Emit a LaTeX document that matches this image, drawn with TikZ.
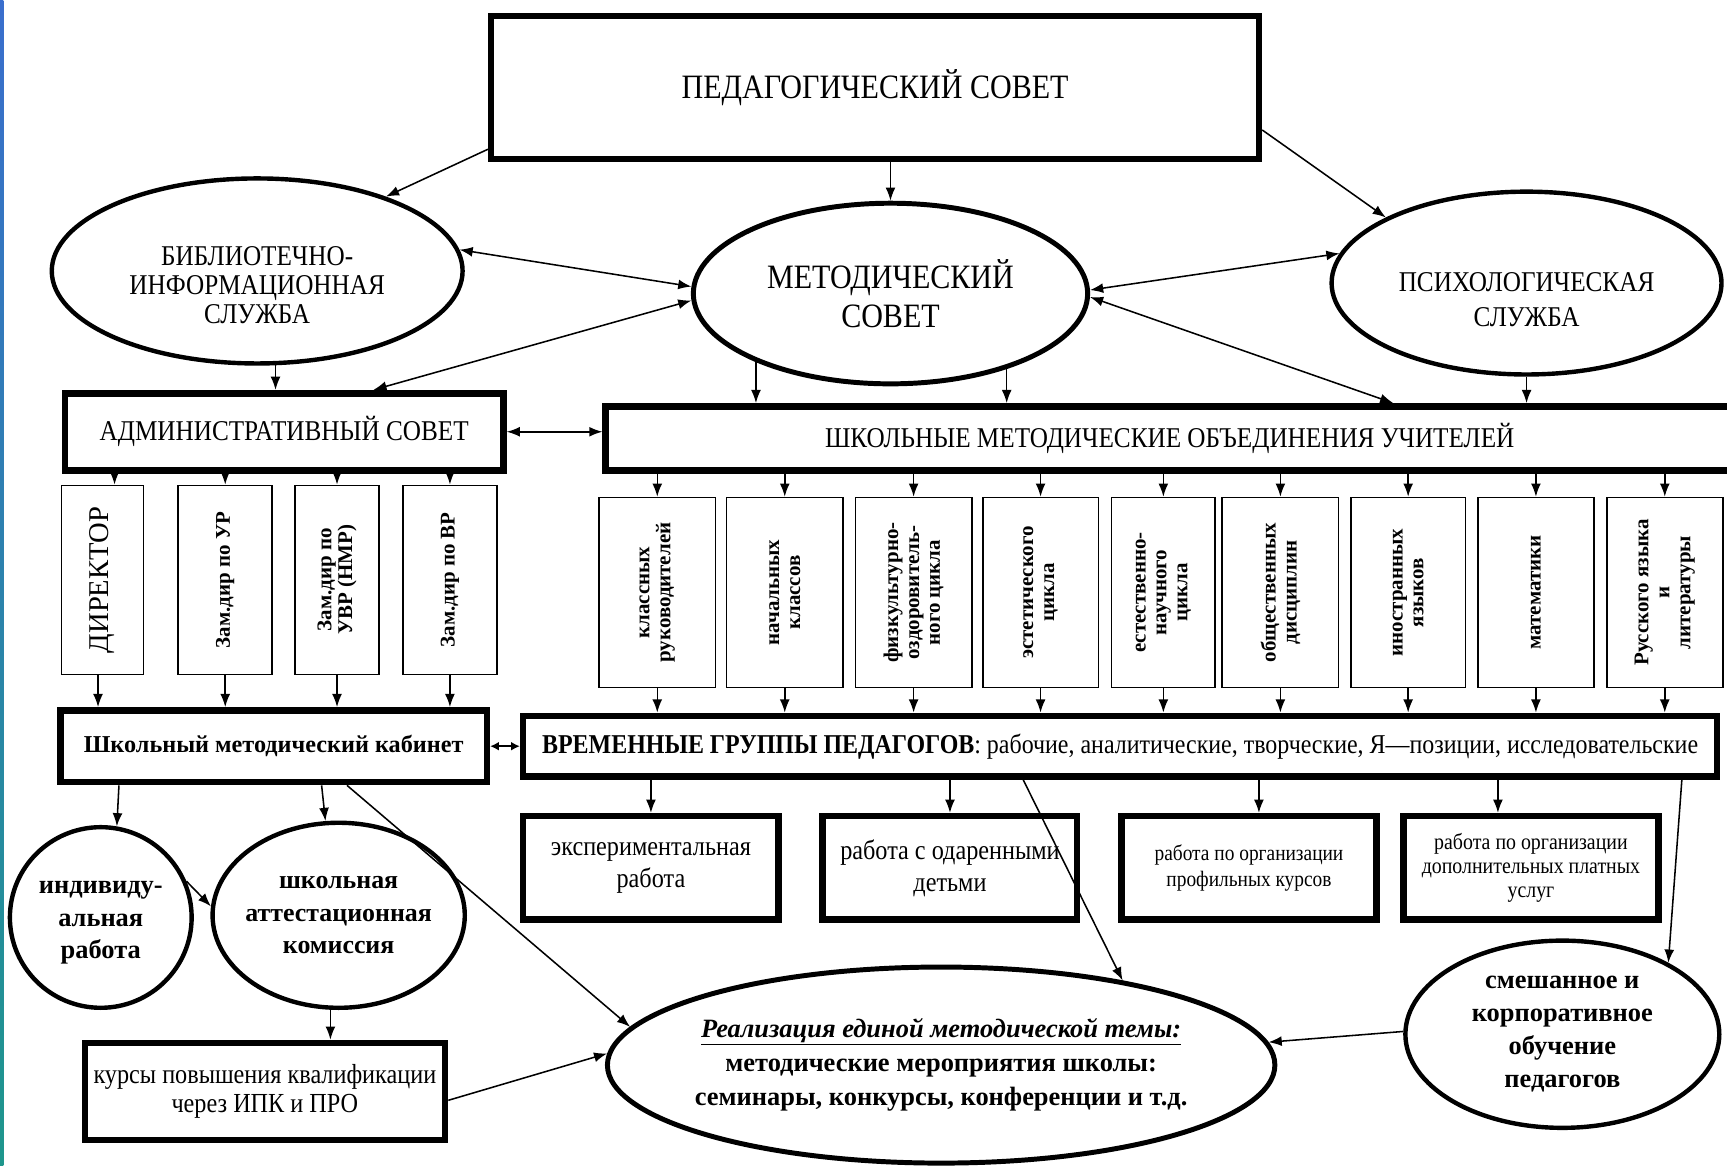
\documentclass[tikz,border=0pt]{standalone}
\usepackage{fontspec}
\setmainfont{Liberation Serif}
\newfontfamily\condfont[FakeStretch=0.88]{Liberation Serif}
\usetikzlibrary{shapes.geometric,arrows.meta}
\definecolor{stripblue}{RGB}{58,110,205}
\definecolor{stripteal}{RGB}{30,150,140}
\tikzset{
  fatbox/.style={draw, line width=6pt, inner sep=0pt, align=center},
  thinbox/.style={draw, line width=1.5pt, inner sep=0pt},
  oval/.style={draw, ellipse, line width=4pt, inner sep=-12pt, align=center},
  vtext/.style={rotate=90, align=center, inner sep=0pt, font=\bfseries\fontsize{19}{19}\selectfont},
  link/.style={->, line width=1.4pt},
  twoway/.style={<->, line width=1.4pt}
}
\begin{document}
\begin{tikzpicture}[x=1pt, y=-1pt, >={Latex[length=12pt, width=9pt]}]
\useasboundingbox (0,0) rectangle (1568,1058);
\clip (0,0) rectangle (1568,1058);
\shade [top color=stripblue, bottom color=stripteal] (0,0) rectangle (3,1058);

\node [fatbox, line width=5.5pt, minimum width=697.5, minimum height=129.5, font=\condfont\fontsize{31}{34}\selectfont] (ped) at (794.5,79.5) {ПЕДАГОГИЧЕСКИЙ СОВЕТ};
\node [oval, minimum width=373, minimum height=168] (lib) at (233.5,246) {};
\node [align=center, font=\condfont\fontsize{26}{26.5}\selectfont] (libtxt) at ([yshift=-13pt]lib.center) {БИБЛИОТЕЧНО-\\ИНФОРМАЦИОННАЯ\\СЛУЖБА};
\node [oval, line width=4.5pt, minimum width=358, minimum height=164, font=\condfont\fontsize{31}{35}\selectfont] (met) at (808.5,266.5) {МЕТОДИЧЕСКИЙ\\СОВЕТ};
\node [oval, minimum width=354, minimum height=166] (psy) at (1386,257) {};
\node [align=center, font=\condfont\fontsize{26}{32}\selectfont] (psytxt) at ([yshift=-15pt]psy.center) {ПСИХОЛОГИЧЕСКАЯ\\СЛУЖБА};
\node [fatbox, minimum width=398, minimum height=70, font=\condfont\fontsize{26}{28}\selectfont] (adm) at (258,392) {АДМИНИСТРАТИВНЫЙ СОВЕТ};
\node [fatbox, minimum width=1024, minimum height=58, font=\condfont\fontsize{26}{28}\selectfont] (shmo) at (1062,398) {ШКОЛЬНЫЕ МЕТОДИЧЕСКИЕ ОБЪЕДИНЕНИЯ УЧИТЕЛЕЙ};
\node [fatbox, minimum width=387, minimum height=65, font=\bfseries\fontsize{22}{24}\selectfont] (smk) at (248.5,677.5) {Школьный методический кабинет};
\node [fatbox, minimum width=1084, minimum height=55, font=\condfont\fontsize{24.7}{27}\selectfont] (vg) at (1017,677.5) {{\bfseries ВРЕМЕННЫЕ ГРУППЫ ПЕДАГОГОВ}: рабочие, аналитические, творческие, Я—позиции, исследовательские};

\draw [link] (ped.south -| met.north) -- (met.north);
\draw [link] ([yshift=-56pt]ped.west) -- (lib.30);
\draw [link] ([yshift=-38.5pt]ped.east) -- (psy.155);
\draw [twoway] (lib.6) -- (met.178);
\draw [twoway] ([xshift=81pt]adm.north) -- (met.182);
\draw [twoway] (met.1) -- (psy.171);
\draw [twoway] (met.359) -- ([xshift=203pt]shmo.north);
\draw [link] (lib.281) -- (lib.281 |- adm.north);
\draw [link] (met.207) -- (met.207 |- shmo.north);
\draw [link] (met.327) -- (met.327 |- shmo.north);
\draw [link] (psy.south) -- (psy.south |- shmo.north);
\draw [twoway] (adm.east) -- (adm.east -| shmo.west);

\foreach \i/\x/\w in {1/93/74.5, 2/204.5/85.5, 3/306/76.5, 4/408.5/85.5}
  \node [thinbox, minimum width=\w, minimum height=171.5] (d\i) at (\x,526.5) {};
\node [vtext, font=\fontsize{26}{28}\selectfont] (dt1) at (d1) {ДИРЕКТОР};
\node [vtext] (dt2) at (d2) {Зам.дир по УР};
\node [vtext] (dt3) at (d3) {Зам.дир по\\УВР (НМР)};
\node [vtext] (dt4) at (d4) {Зам.дир по ВР};
\draw [link] ([xshift=11pt]d1.north |- adm.south) -- ([xshift=11pt]d1.north);
\foreach \i in {2,3,4} \draw [link] (adm.south -| d\i.north) -- (d\i.north);
\draw [link] ([xshift=-4pt]d1.south) -- ([xshift=-4pt]d1.south |- smk.north);
\foreach \i in {2,3,4} \draw [link] (d\i.south) -- (d\i.south |- smk.north);

\foreach \i/\x/\w/\t in {1/596.75/105.5/{классных\\руководителей}, 2/712.5/105.5/{начальных\\классов},
    3/829.5/105.5/{физкультурно-\\оздоровитель-\\ного цикла}, 4/944.75/105/{эстетического\\цикла},
    5/1056.25/94/{естественно-\\научного\\цикла}, 6/1162.5/105.5/{общественных\\дисциплин},
    7/1278.5/104/{иностранных\\языков}, 8/1394.5/105.5/{математики},
    9/1511.5/105.5/{Русского языка\\и\\литературы}}
{
  \node [thinbox, minimum width=\w, minimum height=172.5] (s\i) at (\x,538) {};
  \node [vtext] (t\i) at (s\i) {\t};
  \draw [link] (shmo.south -| s\i.north) -- (s\i.north);
  \draw [link] (s\i.south) -- (s\i.south |- vg.north);
}
\draw [twoway, >={Latex[length=8pt, width=8pt]}] (smk.east) -- (smk.east -| vg.west);

\node [fatbox, minimum width=232, minimum height=94, font=\condfont\fontsize{25}{29}\selectfont] (w1) at (591,788) {экспериментальная\\работа};
\node [fatbox, minimum width=231, minimum height=94, font=\condfont\fontsize{25}{29}\selectfont] (w2) at (862.5,788) {работа с одаренными\\детьми};
\node [fatbox, minimum width=232, minimum height=94, font=\condfont\fontsize{20}{23}\selectfont] (w3) at (1134,788) {работа по организации\\профильных курсов};
\node [fatbox, minimum width=232, minimum height=94, font=\condfont\fontsize{20.5}{22}\selectfont] (w4) at (1390,788) {работа по организации\\дополнительных платных\\услуг};
\draw [link] (vg.south -| w1.north) -- (w1.north);
\draw [link] (vg.south -| w2.north) -- (w2.north);
\draw [link] ([xshift=9pt]vg.south -| w3.north) -- ([xshift=9pt]w3.north);
\draw [link] ([xshift=-30pt]vg.south -| w4.north) -- ([xshift=-30pt]w4.north);

\node [oval, minimum width=165, minimum height=164] (ind) at (91.5,833) {};
\node [align=center, font=\bfseries\fontsize{24}{29.5}\selectfont] (indtxt) at ([yshift=-5pt]ind.center) {индивиду-\\альная\\работа};
\node [oval, minimum width=229, minimum height=168, font=\bfseries\fontsize{23.5}{29.5}\selectfont] (att) at (307.5,831) {школьная\\аттестационная\\комиссия};
\node [fatbox, minimum width=327, minimum height=88, font=\condfont\fontsize{25}{26}\selectfont] (kursy) at (240.5,991) {курсы повышения квалификации\\через ИПК и ПРО};
\node [oval, line width=4.5pt, minimum width=606, minimum height=178, font=\bfseries\fontsize{24}{31}\selectfont] (real) at (854.5,967) {\underline{\textit{Реализация единой методической темы:}}\\методические  мероприятия школы:\\семинары, конкурсы, конференции и т.д.};
\node [oval, minimum width=285, minimum height=170, font=\bfseries\fontsize{24}{30}\selectfont] (smesh) at (1418.5,939) {смешанное и\\корпоративное\\обучение\\педагогов};

\draw [link] ([xshift=-140.5pt]smk.south) -- (ind.80);
\draw [link] ([xshift=43.5pt]smk.south) -- (att.98);
\draw [link] (ind.23) -- (att.176);
\draw [link] (att.265) -- (att.265 |- kursy.north);
\draw [link] ([xshift=66.5pt]smk.south) -- (real.173);
\draw [link] ([yshift=-8pt]kursy.east) -- (real.178);
\draw [link] ([xshift=-88pt]vg.south) -- (real.25);
\draw [link] ([xshift=510pt]vg.south) -- (smesh.34);
\draw [link] (smesh.179) -- (real.4);
\end{tikzpicture}
\end{document}
